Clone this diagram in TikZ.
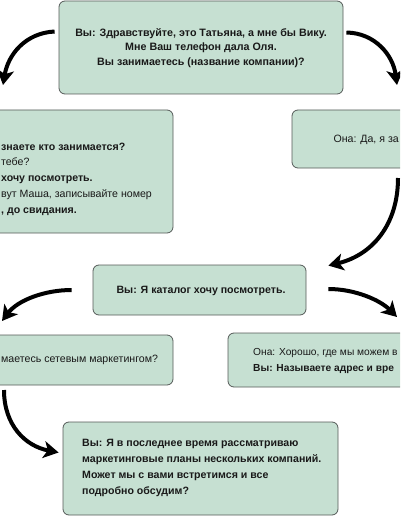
\documentclass[tikz,border=0pt]{standalone}
\usepackage{fontspec}
\setmainfont{Liberation Sans}
\usetikzlibrary{arrows.meta}
\definecolor{boxfill}{RGB}{198,224,210}
\definecolor{boxline}{RGB}{85,90,88}
\definecolor{txtcol}{RGB}{25,25,25}
\begin{document}
\begin{tikzpicture}[x=1pt,y=-1pt,
  box/.style={draw=boxline, fill=boxfill, rounded corners=6pt, line width=0.8pt, inner sep=0pt},
  txt/.style={font=\fontsize{10.6}{15}\selectfont, inner sep=0pt, text=txtcol},
  btxt/.style={font=\fontsize{10.6}{15}\selectfont\bfseries, inner sep=0pt, text=txtcol},
  arr/.style={line width=4pt, -{Stealth[length=15pt,width=17pt,inset=4pt]}},
]
\useasboundingbox (0,0) rectangle (400,516);
\clip (0,0) rectangle (400,516);
% boxes
\node[box, minimum width=284pt, minimum height=93pt] (top) at (201,47.5) {};
\node[box, minimum width=323pt, minimum height=123pt] (left2) at (11.5,171.5) {};
\node[box, minimum width=268pt, minimum height=58pt] (right2) at (426,139) {};
\node[box, minimum width=213pt, minimum height=50pt] (mid) at (199.5,290) {};
\node[box, minimum width=323pt, minimum height=50pt] (left3) at (11.5,360) {};
\node[box, minimum width=332pt, minimum height=54pt] (right3) at (394,360) {};
\node[box, minimum width=275pt, minimum height=93pt] (bot) at (200.5,468.5) {};
% texts
\node[btxt, align=center, font=\fontsize{10.7}{14.5}\selectfont\bfseries] (toptxt) at (201,48)
  {Вы: Здравствуйте, это Татьяна, а мне бы Вику.\\Мне Ваш телефон дала Оля.\\Вы занимаетесь (название компании)?};
\node[btxt, anchor=base west] (l2a) at (1,150) {знаете кто занимается?};
\node[txt, anchor=base west] (l2b) at (1,165.5) {тебе?};
\node[btxt, anchor=base west] (l2c) at (1,181) {хочу посмотреть.};
\node[txt, anchor=base west] (l2d) at (1,197) {вут Маша, записывайте номер};
\node[btxt, anchor=base west] (l2e) at (1,213) {, до свидания.};
\node[txt, anchor=base east] (right2txt) at (399,142) {Она: Да, я за};
\node[btxt] (midtxt) at (201,291) {Вы: Я каталог хочу посмотреть.};
\node[txt, anchor=base west] (left3txt) at (1,362.5) {маетесь сетевым маркетингом?};
\node[txt, anchor=base west, font=\fontsize{10.2}{15}\selectfont] (r3a) at (253,355.5) {Она: Хорошо, где мы можем в};
\node[btxt, anchor=base west, font=\fontsize{10.2}{15}\selectfont\bfseries] (r3b) at (253,371) {Вы: Называете адрес и вре};
\node[btxt, align=left, anchor=west, font=\fontsize{10.6}{16}\selectfont\bfseries] (bottxt) at (82,467.5)
  {Вы: Я в последнее время рассматриваю\\маркетинговые планы нескольких компаний.\\Может мы с вами встретимся и все\\подробно обсудим?};
% free ends of connectors
\coordinate (e1) at (3,85);
\coordinate (e2) at (397,85);
\coordinate (s3) at (398,178);
\coordinate (e4) at (2,321);
\coordinate (e5) at (397,317);
\coordinate (s6) at (4,390);
% connectors
\draw[arr] ([xshift=-4pt,yshift=16pt]top.west) .. controls (25,33) and (8,55) .. (e1);
\draw[arr] ([xshift=3pt,yshift=15pt]top.east) .. controls (375,33) and (393,55) .. (e2);
\draw[arr] (s3) .. controls (398,225) and (372,255) .. ([xshift=22pt,yshift=-1pt]mid.north east);
\draw[arr] ([xshift=-21pt]mid.west) .. controls (45,290) and (18,300) .. (e4);
\draw[arr] ([xshift=22pt,yshift=1pt]mid.east) .. controls (355,289) and (380,300) .. (e5);
\draw[arr] (s6) .. controls (4,425) and (25,446) .. ([xshift=-4pt,yshift=16pt]bot.west);
\end{tikzpicture}
\end{document}
